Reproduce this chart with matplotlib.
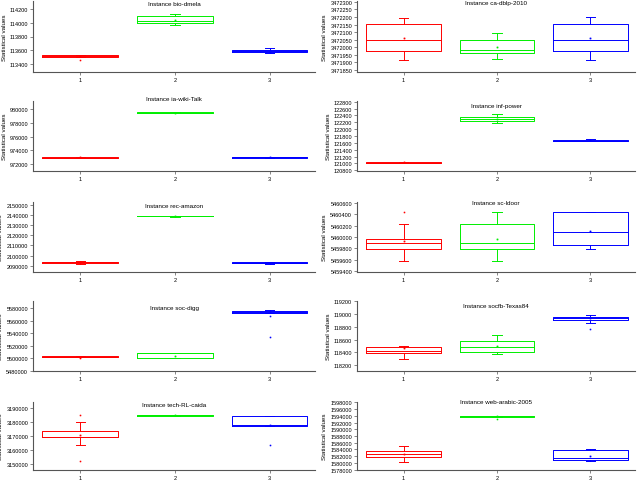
import matplotlib
matplotlib.use("Agg")
import matplotlib.pyplot as plt
import numpy as np

plt.rcParams['font.family'] = ['Liberation Sans', 'DejaVu Sans']

# ---- data (panel order: left column top->bottom, then right column top->bottom)
instances = ["bio-dmela", "ia-wiki-Talk", "rec-amazon", "soc-digg", "tech-RL-caida",
             "ca-dblp-2010", "inf-power", "sc-ldoor", "socfb-Texas84", "web-arabic-2005"]
categories = [1, 2, 3]

q1 = [
    [113508, 114000, 113568],
    [972900, 979400, 972980],
    [2092800, 2138400, 2092400],
    [5501500, 5500250, 5571500],
    [3169140, 3184800, 3177070],
    [3471975, 3471960, 3471977],
    [121005, 122237, 121640],
    [5459783, 5459783, 5459865],
    [118384, 118409, 118901],
    [1581895, 1593750, 1580928],
]
med = [
    [113516, 114023, 113592],
    [972955, 979460, 973056],
    [2093300, 2138890, 2092950],
    [5502330, 5507750, 5573600],
    [3169600, 3185180, 3178200],
    [3472048, 3471984, 3472048],
    [121020, 122286, 121657],
    [5459892, 5459892, 5460093],
    [118425, 118487, 118933],
    [1582685, 1593900, 1581426],
]
q3 = [
    [113524, 114103, 113610],
    [973050, 979530, 973120],
    [2093800, 2139300, 2093400],
    [5503000, 5507750, 5575700],
    [3173890, 3185500, 3184700],
    [3472152, 3472050, 3472153],
    [121035, 122351, 121675],
    [5459962, 5460230, 5460437],
    [118478, 118581, 118958],
    [1583476, 1594050, 1583856],
]
whislo = [
    [113508, 113962, 113554],
    [972900, 979400, 972980],
    [2092000, 2138000, 2091600],
    [5501500, 5500250, 5571500],
    [3163880, 3184800, 3177070],
    [3471917, 3471923, 3471918],
    [121005, 122171, 121640],
    [5459580, 5459580, 5459783],
    [118294, 118372, 118864],
    [1580250, 1593750, 1580635],
]
whishi = [
    [113524, 114127, 113634],
    [973050, 979530, 973120],
    [2094800, 2139300, 2093400],
    [5503000, 5509000, 5577300],
    [3179930, 3185500, 3184700],
    [3472195, 3472092, 3472198],
    [121035, 122437, 121723],
    [5460230, 5460437, 5460437],
    [118503, 118676, 118990],
    [1585030, 1594050, 1584050],
]
means = [
    [113516, 114037, 113575],
    [972990, 979440, 973056],
    [2093300, 2138890, 2092950],
    [5502300, 5502870, 5574000],
    [3170800, 3185180, 3178200],
    [3472058, 3472000, 3472060],
    [121030, 122300, 121690],
    [5459925, 5459962, 5460110],
    [118470, 118497, 118933],
    [1582700, 1593900, 1582010],
]
fliers = [
    [[113455], [], []],
    [[], [], []],
    [[], [], []],
    [[5500200], [], [5567600, 5533270]],
    [[3185180, 3152370], [], [3163880]],
    [[], [], []],
    [[], [], []],
    [[5460437], [], []],
    [[], [], [118760]],
    [[], [1592930], []],
]
# y tick labels (start, stop, step) per panel
ytick_start = [113400, 972000, 2090000, 5480000, 3150000, 3471850, 120800, 5459400, 118200, 1578000]
ytick_stop = [114200, 980000, 2150000, 5580000, 3190000, 3472300, 122800, 5460600, 119200, 1598000]
ytick_step = [200, 2000, 10000, 20000, 10000, 50, 200, 200, 200, 2000]
ylims = [
    (113284, 114316), (971030, 981160), (2083800, 2152650), (5479500, 5591160), (3145690, 3194530),
    (3471837, 3472305), (120780, 122820), (5459390, 5460610), (118106, 119205), (1577900, 1598100),
]

# ---- layout / style
colors = ["#ff0000", "#00ee00", "#0000ff"]
W, H = 640, 481
row_top = [2, 102, 203, 302, 403]
row_bot = [73, 172, 273, 372, 471]
col_left = [33, 357]
col_right = [315, 635]
title_y = [0.96, 1.03, 0.95, 0.91, 0.96, 0.98, 0.93, 0.99, 0.94, 1.0]

fig = plt.figure(figsize=(W / 100, H / 100), dpi=100)

for p, name in enumerate(instances):
    col = p // 5
    row = p % 5
    x0 = col_left[col] / W
    w = (col_right[col] - col_left[col]) / W
    y0 = 1 - row_bot[row] / H
    h = (row_bot[row] - row_top[row]) / H
    ax = fig.add_axes([x0, y0, w, h])
    for k in range(3):
        st = dict(med=med[p][k], q1=q1[p][k], q3=q3[p][k], whislo=whislo[p][k],
                  whishi=whishi[p][k], mean=means[p][k], fliers=fliers[p][k])
        c = colors[k]
        lw = 0.7
        ax.bxp([st], positions=[categories[k]], widths=0.8, capwidths=0.1,
               showmeans=True, showfliers=True, patch_artist=False,
               boxprops=dict(color=c, linewidth=lw),
               medianprops=dict(color=c, linewidth=lw),
               whiskerprops=dict(color=c, linewidth=lw),
               capprops=dict(color=c, linewidth=lw),
               meanprops=dict(marker='s', markersize=0.9, markerfacecolor=c,
                              markeredgecolor=c, markeredgewidth=0.3, linestyle='none'),
               flierprops=dict(marker='s', markersize=0.8, markerfacecolor=c,
                               markeredgecolor=c, markeredgewidth=0.3, linestyle='none'))
    ax.set_xlim(0.5, 3.48)
    ax.set_ylim(*ylims[p])
    yt = np.arange(ytick_start[p], ytick_stop[p] + ytick_step[p] / 2, ytick_step[p])
    ax.set_yticks(yt)
    ax.set_yticklabels([f"{int(v)}" for v in yt])
    ax.set_xticks(categories)
    ax.set_xticklabels([str(c) for c in categories])
    for s in ["top", "right"]:
        ax.spines[s].set_visible(False)
    for s in ["left", "bottom"]:
        ax.spines[s].set_color("#555555")
        ax.spines[s].set_linewidth(0.8)
    ax.tick_params(axis='both', labelsize=4, length=2, width=0.5, color="#555555", pad=1.5)
    ax.set_ylabel("Statistical values", fontsize=4.5, labelpad=2)
    ax.text(0.5, title_y[p], "Instance " + name, transform=ax.transAxes,
            ha='center', va='center', fontsize=4.5)
    ax.patch.set_alpha(0)

fig.savefig("out.png", dpi=100)
